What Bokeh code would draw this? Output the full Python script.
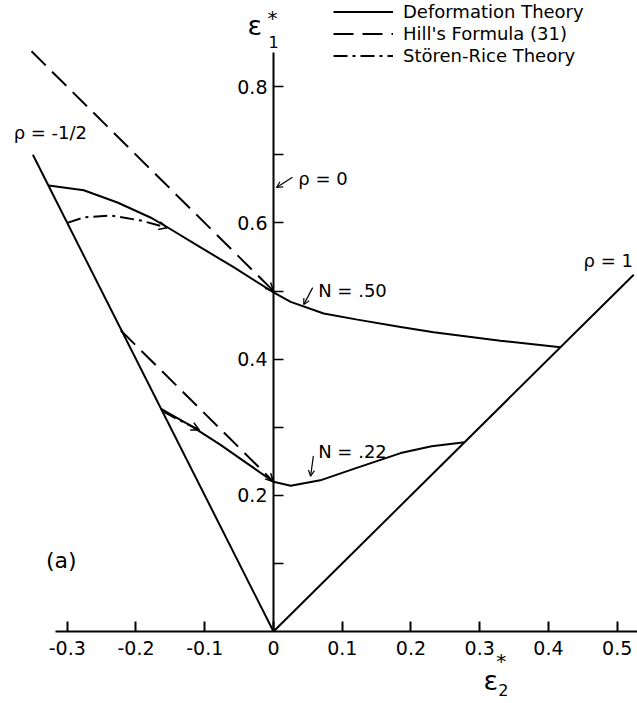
from bokeh.plotting import figure
from bokeh.models import (Range1d, Label, Arrow, OpenHead, Legend, LegendItem,
                          FixedTicker, CustomJSTickFormatter)
from bokeh.embed import file_html
from bokeh.resources import INLINE

FONT = "DejaVu Sans"

# ---- data ----
rho_neg_half_x = [0.0, -0.35]
rho_neg_half_y = [0.0, 0.70]
rho_one_x = [0.0, 0.524]
rho_one_y = [0.0, 0.524]

def50_x = [-0.327, -0.276, -0.227, -0.179, -0.155, -0.106, -0.058, 0.0, 0.025, 0.073, 0.122, 0.185, 0.233, 0.330, 0.4175]
def50_y = [0.655, 0.648, 0.630, 0.608, 0.594, 0.564, 0.535, 0.498, 0.484, 0.467, 0.458, 0.447, 0.4395, 0.427, 0.4175]

hill50_x = [-0.352, 0.0]
hill50_y = [0.852, 0.500]

sr50_x = [-0.300, -0.276, -0.237, -0.193, -0.155]
sr50_y = [0.600, 0.608, 0.611, 0.6035, 0.593]

def22_x = [-0.1635, -0.120, -0.077, -0.040, 0.0, 0.025, 0.068, 0.120, 0.185, 0.230, 0.278]
def22_y = [0.327, 0.302, 0.274, 0.248, 0.220, 0.214, 0.222, 0.240, 0.262, 0.272, 0.278]

hill22_x = [-0.222, 0.0]
hill22_y = [0.442, 0.220]

sr22_x = [-0.160, -0.140, -0.122, -0.108]
sr22_y = [0.323, 0.312, 0.303, 0.296]

x_ticks = [-0.3, -0.2, -0.1, 0.0, 0.1, 0.2, 0.3, 0.4, 0.5]
y_ticks = [0.2, 0.4, 0.6, 0.8]
y_minor = [0.1, 0.3, 0.5, 0.7]

legend_labels = ["Deformation Theory", "Hill's Formula (31)", "Stören-Rice Theory"]

# ---- figure ----
p = figure(width=637, height=703, x_range=Range1d(-0.3971, 0.5295),
           y_range=Range1d(-0.1057, 0.9266), output_backend="svg",
           toolbar_location=None, min_border_left=0, min_border_right=0,
           min_border_top=0, min_border_bottom=0)
p.outline_line_color = None
p.grid.visible = False

fmt = CustomJSTickFormatter(code="return tick == 0 ? '0' : tick.toFixed(1);")

xa = p.xaxis[0]
xa.fixed_location = 0
xa.ticker = FixedTicker(ticks=x_ticks, minor_ticks=[])
xa.formatter = fmt
xa.bounds = (-0.317, 0.53)
xa.axis_line_width = 2
xa.major_tick_in = 10
xa.major_tick_out = 0
xa.minor_tick_in = 0
xa.minor_tick_out = 0
xa.major_tick_line_width = 2
xa.major_label_standoff = 9
xa.major_label_text_font = FONT
xa.major_label_text_font_size = "19px"
xa.major_label_text_color = "black"

ya = p.yaxis[0]
ya.fixed_location = 0
ya.ticker = FixedTicker(ticks=y_ticks, minor_ticks=y_minor)
ya.formatter = fmt
ya.bounds = (0, 0.85)
ya.axis_line_width = 2
ya.major_tick_in = 10
ya.major_tick_out = 0
ya.minor_tick_in = 10
ya.minor_tick_out = 0
ya.major_tick_line_width = 1.5
ya.minor_tick_line_width = 1.5
ya.major_label_standoff = 6
ya.major_label_text_font = FONT
ya.major_label_text_font_size = "19px"
ya.major_label_text_color = "black"

# ---- lines ----
p.line(rho_neg_half_x, rho_neg_half_y, color="black", line_width=2)
p.line(rho_one_x, rho_one_y, color="black", line_width=2)

r_def50 = p.line(def50_x, def50_y, color="black", line_width=2)
r_hill50 = p.line(hill50_x, hill50_y, color="black", line_width=2, line_dash="20 9")
r_sr50 = p.line(sr50_x, sr50_y, color="black", line_width=2, line_dash="14 5 3 5")
p.line(def22_x, def22_y, color="black", line_width=2)
p.line(hill22_x, hill22_y, color="black", line_width=2, line_dash="20 9")
p.line(sr22_x, sr22_y, color="black", line_width=2, line_dash="14 5 3 5")

# arrowheads at ends of Hill and Stören-Rice curves
for xs, ys in [(hill50_x, hill50_y), (hill22_x, hill22_y), (sr50_x, sr50_y), (sr22_x, sr22_y)]:
    p.add_layout(Arrow(end=OpenHead(size=8, line_width=1.5), line_alpha=0,
                       x_start=xs[-2], y_start=ys[-2], x_end=xs[-1], y_end=ys[-1]))

# ---- legend ----
legend = Legend(items=[LegendItem(label=legend_labels[0], renderers=[r_def50]),
                       LegendItem(label=legend_labels[1], renderers=[r_hill50]),
                       LegendItem(label=legend_labels[2], renderers=[r_sr50])],
                location=(333, 637), border_line_color=None, background_fill_alpha=0,
                padding=0, margin=0, spacing=1, glyph_width=60, glyph_height=19,
                label_height=19, label_standoff=10, label_text_font=FONT,
                label_text_font_size="18px", label_text_color="black")
p.add_layout(legend)

# ---- text labels ----
def lab(x, y, t, size="17px", align="left", baseline="middle"):
    p.add_layout(Label(x=x, y=y, text=t, text_font=FONT, text_font_size=size,
                       text_align=align, text_baseline=baseline, text_color="black"))

lab(-0.378, 0.733, "ρ = -1/2", size="18px")
lab(0.036, 0.665, "ρ = 0", size="18px")
lab(0.451, 0.545, "ρ = 1", size="18px")
lab(0.065, 0.501, "N = .50", size="18px")
lab(0.065, 0.264, "N = .22", size="18px")
lab(-0.331, 0.104, "(a)", size="22px")

# axis titles epsilon
lab(-0.0378, 0.890, "ε", size="27px")
lab(-0.0073, 0.866, "1", size="16px")
lab(-0.0087, 0.9016, "*", size="20px")
lab(0.3055, -0.0720, "ε", size="27px")
lab(0.327, -0.0860, "2", size="16px")
lab(0.324, -0.0440, "*", size="20px")

# pointer arrows for labels
for xs, ys, xe, ye in [(0.0276, 0.667, 0.0044, 0.652),
                       (0.057, 0.505, 0.044, 0.480),
                       (0.058, 0.258, 0.054, 0.228)]:
    p.add_layout(Arrow(end=OpenHead(size=6, line_width=1.2), line_width=1.2,
                       x_start=xs, y_start=ys, x_end=xe, y_end=ye))

open("out.html", "w").write(file_html(p, INLINE))
